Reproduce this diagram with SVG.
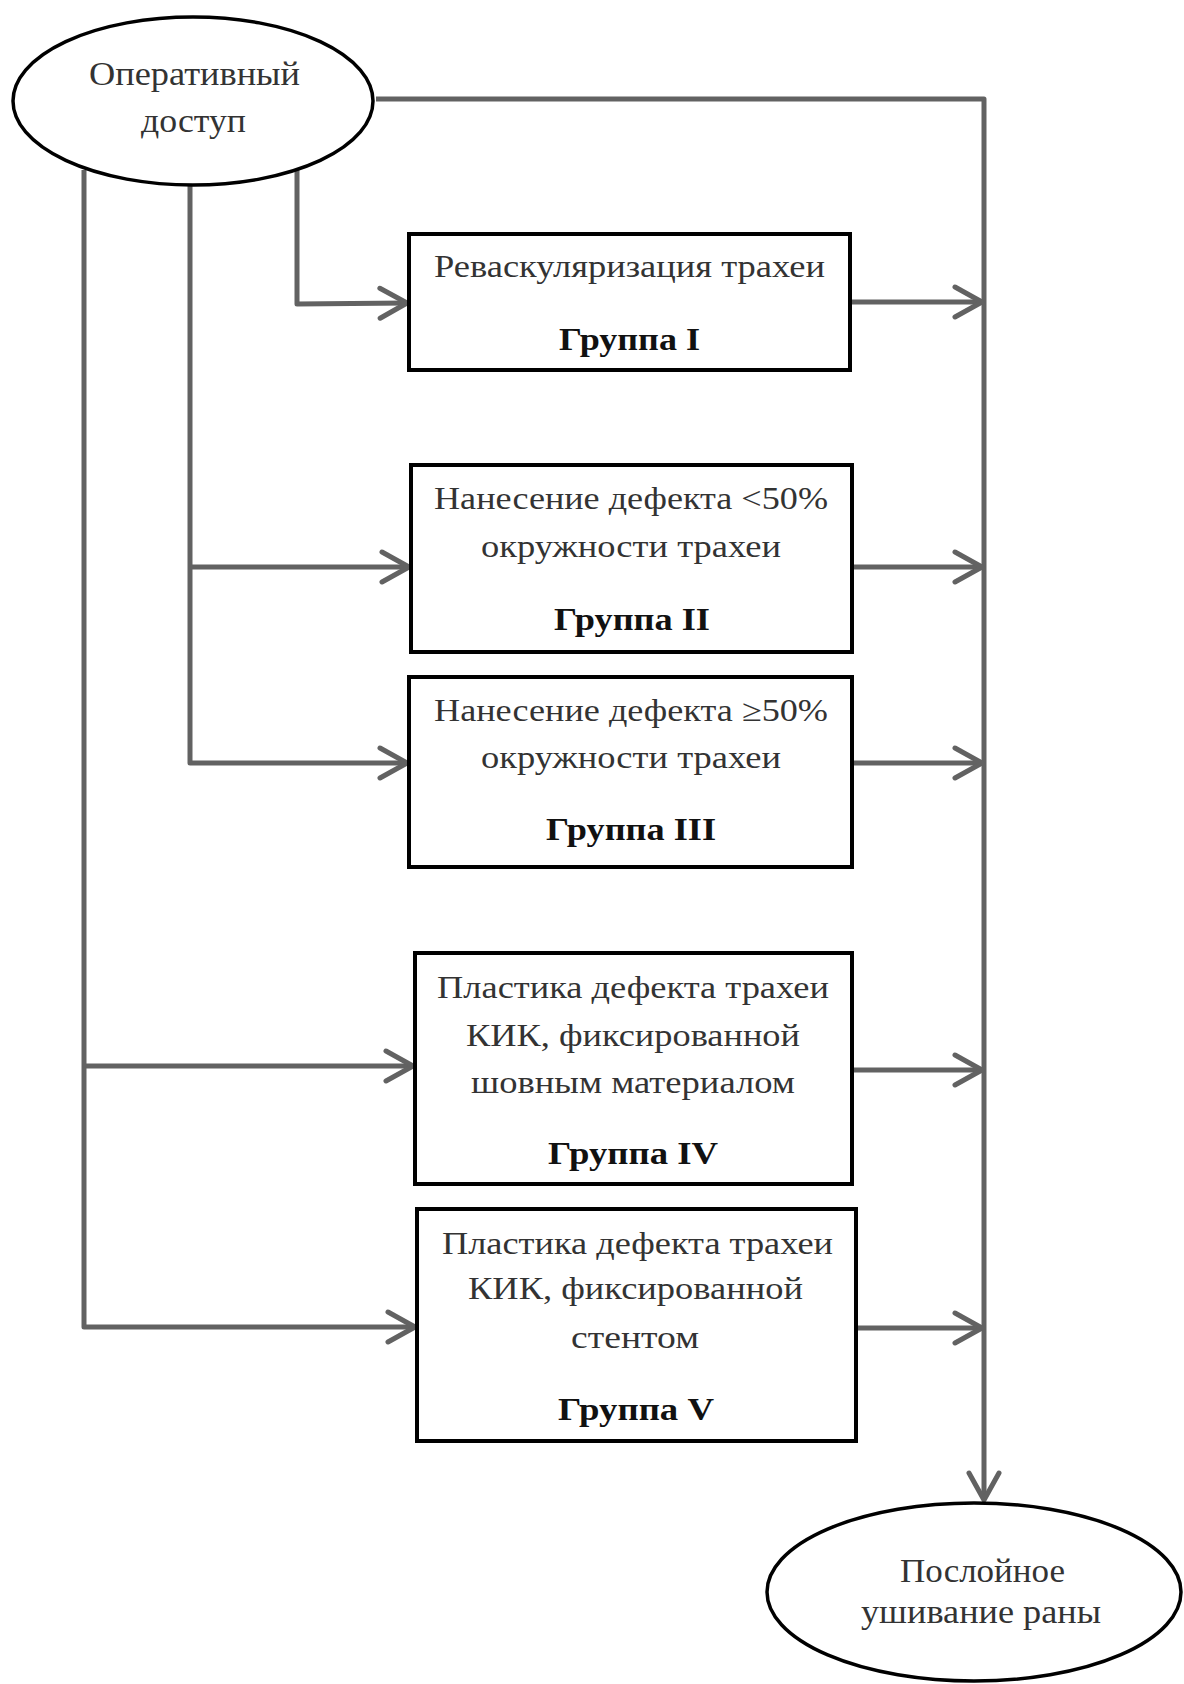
<svg xmlns="http://www.w3.org/2000/svg" width="1184" height="1684" viewBox="0 0 1184 1684">
<defs>
<style>
.node{fill:#fff;stroke:#000;stroke-width:4}
.ell{fill:#fff;stroke:#000;stroke-width:3.5}
.t{font-family:"Liberation Serif","Times New Roman",serif;font-size:31px;fill:#333}
.te{font-family:"Liberation Serif","Times New Roman",serif;font-size:34px;fill:#333}
.b{font-family:"Liberation Serif","Times New Roman",serif;font-size:32px;font-weight:bold;fill:#111}
.c{fill:none;stroke:#626262;stroke-width:5;stroke-linejoin:round}
</style>
<marker id="arr" markerUnits="userSpaceOnUse" viewBox="0 0 34 36" markerWidth="34" markerHeight="36" refX="30" refY="18" orient="auto">
<path d="M3,3 L30,18 L3,33" fill="none" stroke="#626262" stroke-width="5" stroke-linecap="round" stroke-linejoin="round"/>
</marker>
</defs>
<rect width="1184" height="1684" fill="#fff"/>
<g id="connectors">
<path class="c" d="M376,99 L984,99 L984,1500" marker-end="url(#arr)"/>
<path class="c" d="M297,170 L297,304 L407,303" marker-end="url(#arr)"/>
<path class="c" d="M190,185 L190,763 L407,763" marker-end="url(#arr)"/>
<path class="c" d="M190,567 L409,567" marker-end="url(#arr)"/>
<path class="c" d="M84,170 L84,1327 L415,1327" marker-end="url(#arr)"/>
<path class="c" d="M84,1066 L413,1066" marker-end="url(#arr)"/>
<path class="c" d="M850,302 L982,302" marker-end="url(#arr)"/>
<path class="c" d="M852,567 L982,567" marker-end="url(#arr)"/>
<path class="c" d="M852,763 L982,763" marker-end="url(#arr)"/>
<path class="c" d="M852,1070 L982,1070" marker-end="url(#arr)"/>
<path class="c" d="M856,1328 L982,1328" marker-end="url(#arr)"/>
</g>
<g id="start">
<ellipse class="ell" cx="193" cy="101" rx="180" ry="84"/>
<text class="te" x="89" y="85" textLength="211" lengthAdjust="spacingAndGlyphs">Оперативный</text>
<text class="te" x="141" y="132" textLength="105" lengthAdjust="spacingAndGlyphs">доступ</text>
</g>
<g id="group1">
<rect class="node" x="409" y="234" width="441" height="136"/>
<text class="t" x="434" y="277" textLength="391" lengthAdjust="spacingAndGlyphs">Реваскуляризация трахеи</text>
<text class="b" x="559" y="350" textLength="141" lengthAdjust="spacingAndGlyphs">Группа I</text>
</g>
<g id="group2">
<rect class="node" x="411" y="465" width="441" height="187"/>
<text class="t" x="434" y="509" textLength="394" lengthAdjust="spacingAndGlyphs">Нанесение дефекта &lt;50%</text>
<text class="t" x="481" y="557" textLength="300" lengthAdjust="spacingAndGlyphs">окружности трахеи</text>
<text class="b" x="554" y="630" textLength="156" lengthAdjust="spacingAndGlyphs">Группа II</text>
</g>
<g id="group3">
<rect class="node" x="409" y="677" width="443" height="190"/>
<text class="t" x="434" y="721" textLength="394" lengthAdjust="spacingAndGlyphs">Нанесение дефекта ≥50%</text>
<text class="t" x="481" y="768" textLength="300" lengthAdjust="spacingAndGlyphs">окружности трахеи</text>
<text class="b" x="546" y="840" textLength="170" lengthAdjust="spacingAndGlyphs">Группа III</text>
</g>
<g id="group4">
<rect class="node" x="415" y="953" width="437" height="231"/>
<text class="t" x="437" y="998" textLength="392" lengthAdjust="spacingAndGlyphs">Пластика дефекта трахеи</text>
<text class="t" x="466" y="1046" textLength="334" lengthAdjust="spacingAndGlyphs">КИК, фиксированной</text>
<text class="t" x="471" y="1093" textLength="324" lengthAdjust="spacingAndGlyphs">шовным материалом</text>
<text class="b" x="548" y="1164" textLength="170" lengthAdjust="spacingAndGlyphs">Группа IV</text>
</g>
<g id="group5">
<rect class="node" x="417" y="1209" width="439" height="232"/>
<text class="t" x="442" y="1254" textLength="391" lengthAdjust="spacingAndGlyphs">Пластика дефекта трахеи</text>
<text class="t" x="468" y="1299" textLength="335" lengthAdjust="spacingAndGlyphs">КИК, фиксированной</text>
<text class="t" x="571" y="1348" textLength="128" lengthAdjust="spacingAndGlyphs">стентом</text>
<text class="b" x="558" y="1420" textLength="156" lengthAdjust="spacingAndGlyphs">Группа V</text>
</g>
<g id="end">
<ellipse class="ell" cx="974" cy="1592" rx="207" ry="89"/>
<text class="te" x="900" y="1582" textLength="165" lengthAdjust="spacingAndGlyphs">Послойное</text>
<text class="te" x="861" y="1623" textLength="240" lengthAdjust="spacingAndGlyphs">ушивание раны</text>
</g>
</svg>
